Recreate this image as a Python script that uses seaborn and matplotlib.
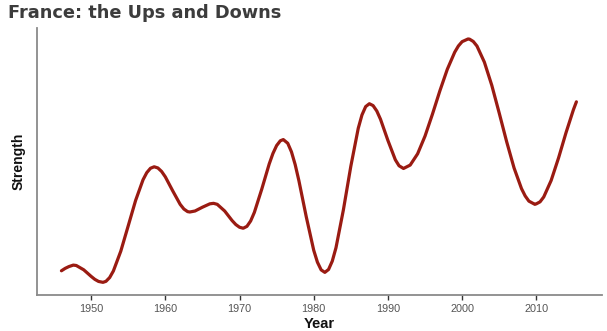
import matplotlib
matplotlib.use("Agg")
import matplotlib.pyplot as plt
import seaborn as sns
import pandas as pd

years = [1946, 1946.5, 1947, 1947.6, 1948, 1949, 1950, 1950.5, 1951, 1951.6,
         1952, 1952.5, 1953, 1954, 1955, 1956, 1957, 1957.5, 1958, 1958.5,
         1959, 1959.5, 1960, 1961, 1962, 1962.5, 1963, 1963.3, 1964, 1965,
         1966, 1966.5, 1967, 1968, 1969, 1969.5, 1970, 1970.5, 1971, 1971.5,
         1972, 1973, 1974, 1974.5, 1975, 1975.5, 1975.9, 1976.5, 1977, 1977.5,
         1978, 1979, 1980, 1980.5, 1981, 1981.5, 1982, 1982.5, 1983, 1984,
         1985, 1986, 1986.5, 1987, 1987.5, 1988, 1988.5, 1989, 1990, 1991,
         1991.5, 1992.1, 1993, 1994, 1995, 1996, 1997, 1998, 1999, 1999.5,
         2000, 2000.8, 2001, 2001.5, 2002, 2003, 2004, 2005, 2006, 2007,
         2008, 2008.5, 2009, 2009.8, 2010, 2010.5, 2011, 2012, 2013, 2014,
         2015, 2015.4]
strength = [24.3, 26.7, 28.5, 30.0, 29.6, 25.3, 18.7, 15.7, 13.6, 12.7,
            13.7, 17.5, 24.1, 44.0, 69.4, 95.0, 115.7, 122.8, 127.2, 128.7,
            127.5, 124.0, 118.6, 104.5, 91.0, 86.3, 83.7, 83.3, 84.3, 88.1,
            91.5, 92.0, 91.0, 84.3, 74.7, 70.7, 68.0, 67.0, 68.9, 74.3,
            82.9, 106.3, 131.5, 142.0, 150.0, 154.8, 156.0, 152.3, 143.7, 130.9,
            114.8, 78.3, 44.9, 32.9, 25.2, 22.7, 25.6, 34.0, 47.4, 85.5,
            129.2, 167.3, 180.7, 189.1, 192.0, 190.1, 184.7, 176.4, 155.1, 135.7,
            129.7, 127.0, 130.4, 141.7, 159.5, 181.5, 204.9, 226.5, 243.7, 250.0,
            254.3, 257.0, 256.8, 254.5, 249.9, 233.7, 210.4, 182.6, 153.9, 127.5,
            106.8, 99.4, 94.2, 91.0, 91.5, 93.5, 98.4, 115.0, 137.7, 162.9,
            186.0, 193.9]
tick_years = [1950, 1960, 1970, 1980, 1990, 2000, 2010]
title = "France: the Ups and Downs"

df = pd.DataFrame({"Year": years, "Strength": strength})

sns.set_style("white")
plt.rcParams["font.family"] = ["Liberation Sans", "DejaVu Sans"]

fig = plt.figure(figsize=(6.07, 3.31), dpi=100)
ax = fig.add_axes([0.0605, 0.1088, 0.9315, 0.8066])

sns.lineplot(data=df, x="Year", y="Strength", ax=ax, estimator=None,
             color="#9a1b12", linewidth=2.3, solid_capstyle="round",
             solid_joinstyle="round")

ax.set_xlim(1942.67, 2018.87)
ax.set_ylim(0, 268)
ax.set_xticks(tick_years)
ax.set_xticklabels([str(t) for t in tick_years], fontsize=7.8, color="#555555")
ax.set_yticks([])
ax.tick_params(axis="x", length=3.5, width=1.0, color="#333333", pad=3, bottom=True)

for side in ["top", "right"]:
    ax.spines[side].set_visible(False)
for side in ["left", "bottom"]:
    ax.spines[side].set_color("#8a8a8a")
    ax.spines[side].set_linewidth(1.3)

ax.set_xlabel("Year", fontsize=10.5, fontweight="bold", color="#111111", labelpad=2)
ax.set_ylabel("Strength", fontsize=10, fontweight="bold", color="#111111", labelpad=8)

fig.text(0.013, 1 - 18 / 331, title, fontsize=12.8, fontweight="bold",
         color="#3c3c3c", family="DejaVu Sans", va="baseline", ha="left")

fig.savefig("out.png", dpi=100)
